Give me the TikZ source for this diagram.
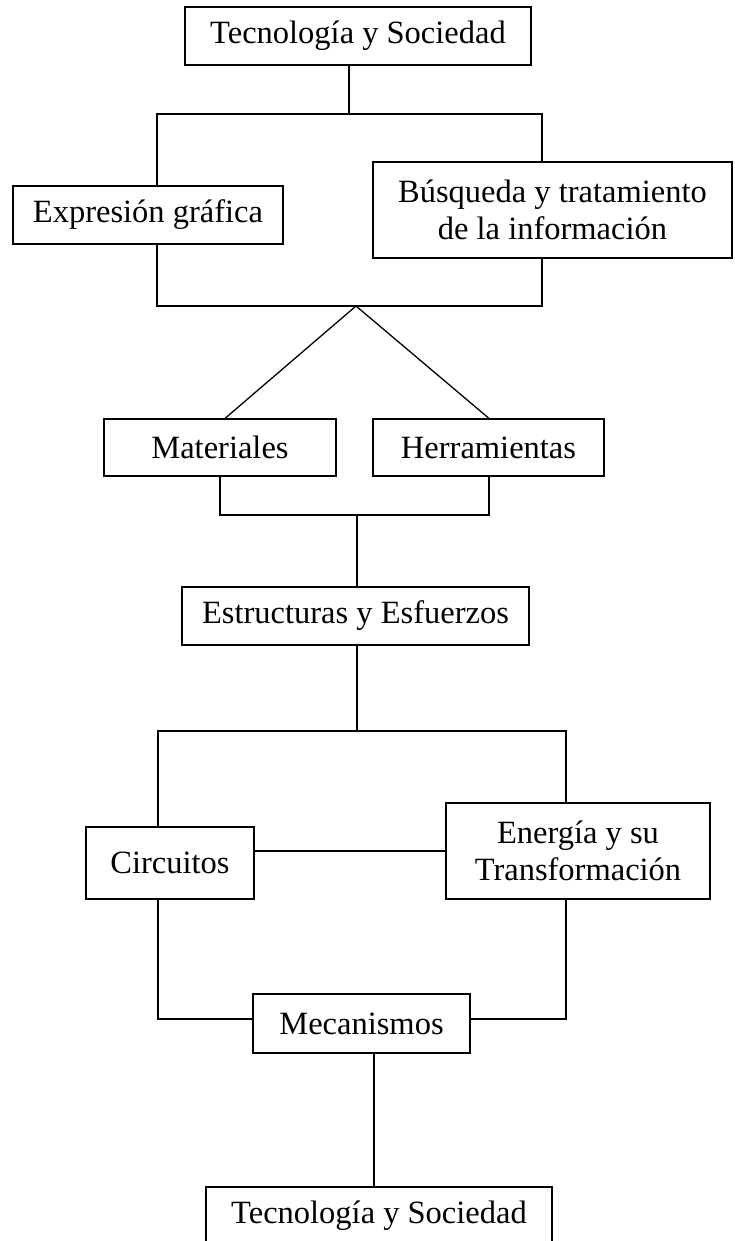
\documentclass[tikz,border=0pt]{standalone}
\usepackage{fontspec}
\setmainfont{Liberation Serif}
\begin{document}
\begin{tikzpicture}[x=1pt,y=-1pt,
  box/.style={draw, line width=1.2pt, inner sep=0pt, align=center,
    font=\fontsize{32.5}{37}\selectfont},
  conn/.style={draw, line width=1.3pt}]
\useasboundingbox (0,0) rectangle (734,1241);
\clip (0,0) rectangle (734,1241);
% nodes
\node[box, minimum width=346pt, minimum height=58pt] (top) at (358,36) {Tecnología y Sociedad};
\node[box, minimum width=270pt, minimum height=58pt] (expr) at (148,215) {Expresión gráfica};
\node[box, minimum width=359pt, minimum height=96pt] (busq) at (552.5,210) {Búsqueda y tratamiento\\de la información};
\node[box, minimum width=232pt, minimum height=57pt] (mat) at (220,447.5) {Materiales};
\node[box, minimum width=231pt, minimum height=57pt] (herr) at (488.5,447.5) {Herramientas};
\node[box, minimum width=347pt, minimum height=58pt] (estr) at (355.5,616) {Estructuras y Esfuerzos};
\node[box, minimum width=168pt, minimum height=72pt] (circ) at (170,863) {Circuitos};
\node[box, minimum width=264pt, minimum height=96pt] (ener) at (578,851) {Energía y su\\Transformación};
\node[box, minimum width=217pt, minimum height=59pt] (mec) at (361.5,1023.5) {Mecanismos};
\node[box, minimum width=346pt, minimum height=58pt] (bot) at (379,1216) {Tecnología y Sociedad};
% junction coordinates
\coordinate (j1) at (349,114);
\coordinate (a1) at (157,114);
\coordinate (a2) at (542,114);
\coordinate (b1) at (157,306);
\coordinate (b2) at (542,306);
\coordinate (apex) at (356,306);
\coordinate (d1) at (225,419);
\coordinate (d2) at (489,419);
\coordinate (c1) at (220,515);
\coordinate (c2) at (489,515);
\coordinate (c0) at (357,515);
\coordinate (e0) at (357,731);
\coordinate (e1) at (158,731);
\coordinate (e2) at (566,731);
\coordinate (m0) at (0,851);
\coordinate (f1) at (158,1019);
\coordinate (f2) at (566,1019);
\coordinate (g0) at (374,1100);
% connectors
\draw[conn] (top.south -| j1) -- (j1);
\draw[conn] (expr.north -| a1) -- (a1) -- (a2) -- (busq.north -| a2);
\draw[conn] (expr.south -| b1) -- (b1) -- (b2) -- (busq.south -| b2);
\draw[conn] (mat.north -| d1) -- (apex) -- (herr.north -| d2);
\draw[conn] (mat.south -| c1) -- (c1) -- (c2) -- (herr.south -| c2);
\draw[conn] (c0) -- (estr.north -| c0);
\draw[conn] (estr.south -| e0) -- (e0);
\draw[conn] (circ.north -| e1) -- (e1) -- (e2) -- (ener.north -| e2);
\draw[conn] (circ.east |- m0) -- (ener.west |- m0);
\draw[conn] (circ.south -| f1) -- (f1) -- (mec.west |- f1);
\draw[conn] (ener.south -| f2) -- (f2) -- (mec.east |- f2);
\draw[conn] (mec.south -| g0) -- (bot.north -| g0);
\end{tikzpicture}
\end{document}
